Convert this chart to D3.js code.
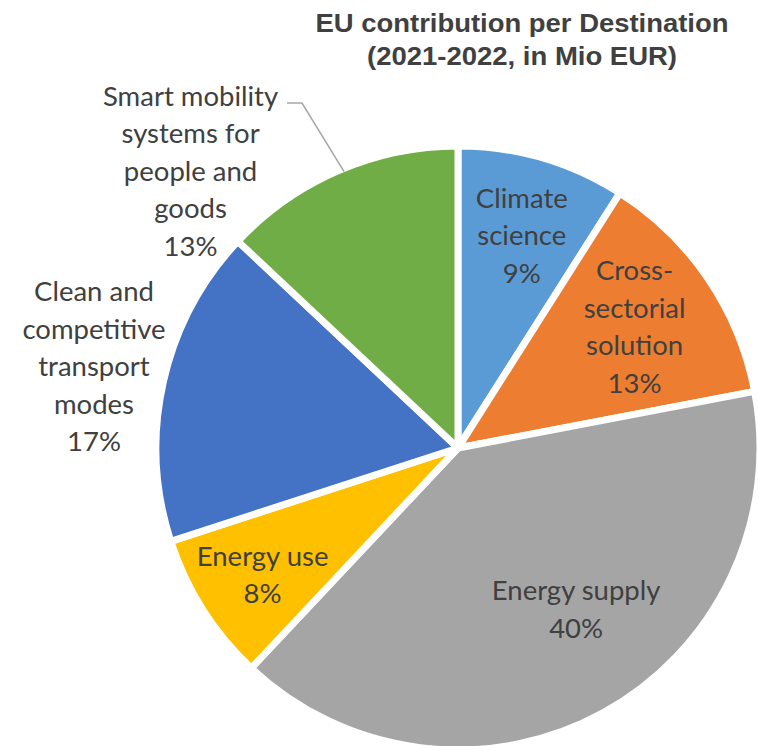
<!DOCTYPE html>
<html><head><meta charset="utf-8">
<script src="https://cdn.jsdelivr.net/npm/d3@7/dist/d3.min.js"></script>
<style>html,body{margin:0;padding:0;background:#fff;}svg{display:block;}</style>
</head><body>
<svg id="chart" width="758" height="746"></svg>
<script>
const categories = ["Climate science","Cross-sectorial solution","Energy supply","Energy use","Clean and competitive transport modes","Smart mobility systems for people and goods"];
const labelLines = [["Climate","science"],["Cross-","sectorial","solution"],["Energy supply"],["Energy use"],["Clean and","competitive","transport","modes"],["Smart mobility","systems for","people and","goods"]];
const shares = [9,13,40,8,17,13];
const colors = ["#5B9BD5","#ED7D31","#A5A5A5","#FFC000","#4472C4","#70AD47"];
const titleLines = ["EU contribution per Destination","(2021-2022, in Mio EUR)"];

// label layout (radius & angle offsets in degrees)
const labelLayout = [
  {r:222, da:0.5}, {r:214, da:-0.2}, {r:200, da:-7.4}, {r:233, da:-0.6}, {r:373, da:0}, {r:385, da:-20.6}
];

const svg = d3.select("#chart");
const cx = 458, cy = 448, R = 302;
const g = svg.append("g").attr("transform",`translate(${cx},${cy})`);

const pie = d3.pie().sort(null).value(d=>d)(shares);
const arc = d3.arc().innerRadius(0).outerRadius(R);

g.selectAll("path.slice").data(pie).join("path")
  .attr("class","slice")
  .attr("d",arc)
  .attr("fill",(d,i)=>colors[i])
  .attr("stroke","#fff").attr("stroke-width",7).attr("stroke-linejoin","round");

const fs = 27.5, lh = 37.5;
const labelColor = "#404040";
pie.forEach((d,i)=>{
  const L = labelLayout[i];
  const a = (d.startAngle+d.endAngle)/2 + L.da*Math.PI/180;
  const x = L.r*Math.sin(a), y = -L.r*Math.cos(a);
  const lines = labelLines[i].concat([shares[i]+"%"]);
  const t = g.append("text").attr("font-family","Lato, 'Open Sans', sans-serif")
    .attr("font-size",fs).attr("fill",labelColor).attr("text-anchor","middle");
  const y0 = y - (lines.length-1)*lh/2;
  lines.forEach((ln,j)=>{
    t.append("tspan").attr("x",x).attr("y",y0+j*lh).attr("dy","0.35em").text(ln);
  });
});

// leader line for Smart mobility label
const sm = pie[5];
const edgeA = (sm.startAngle+sm.endAngle)/2 + 1*Math.PI/180;
const ex = (R-3)*Math.sin(edgeA), ey = -(R-3)*Math.cos(edgeA);
g.append("polyline")
  .attr("points",`${287-cx},${103-cy} ${302-cx},${103-cy} ${ex},${ey}`)
  .attr("fill","none").attr("stroke","#a6a6a6").attr("stroke-width",1.5);

const title = svg.append("text").attr("font-family","'Liberation Sans', Arial, sans-serif")
  .attr("font-weight","bold").attr("font-size",25).attr("fill","#404040").attr("text-anchor","middle");
const titleW = [413, 310];
titleLines.forEach((ln,j)=>title.append("tspan").attr("x",522).attr("y",32+j*32.5)
  .attr("textLength",titleW[j]).attr("lengthAdjust","spacingAndGlyphs").text(ln));
</script>
</body></html>
